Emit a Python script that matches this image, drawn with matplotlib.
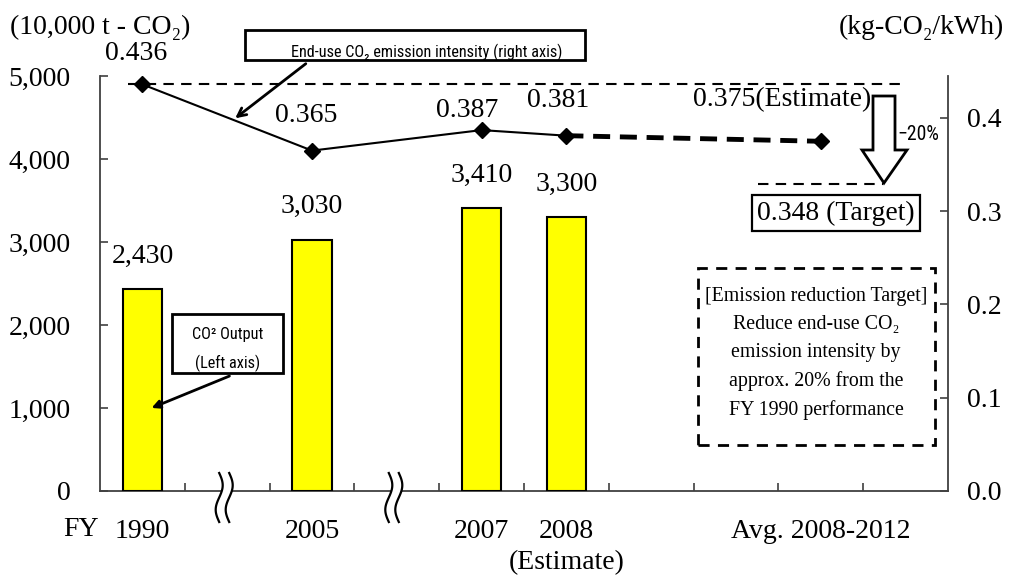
import numpy as np
import matplotlib
matplotlib.use('Agg')
import matplotlib.pyplot as plt
from matplotlib import font_manager as fm
from matplotlib.patches import Rectangle, Polygon, FancyArrowPatch
from matplotlib.lines import Line2D
from matplotlib import transforms

# ---------------- data ----------------
bar_pos = [0, 2, 4, 5]
bar_values = [2430, 3030, 3410, 3300]
bar_labels = ['2,430', '3,030', '3,410', '3,300']

line_pos = [0, 2, 4, 5]
intensity = [0.436, 0.365, 0.387, 0.381]
intensity_labels = ['0.436', '0.365', '0.387', '0.381']
estimate_pos = 8
intensity_estimate = 0.375
estimate_label = '0.375(Estimate)'
target_label = '0.348 (Target)'

xtick_pos = [0, 2, 4, 5, 8]
xtick_labels = ['1990', '2005', '2007', '2008', 'Avg. 2008-2012']
break_pos = [1, 3]

left_ticks = [0, 1000, 2000, 3000, 4000, 5000]
left_ticklabels = ['0', '1,000', '2,000', '3,000', '4,000', '5,000']
right_ticks = [0.0, 0.1, 0.2, 0.3, 0.4]
right_ticklabels = ['0.0', '0.1', '0.2', '0.3', '0.4']

# ---------------- fonts ----------------
names = {f.name for f in fm.fontManager.ttflist}
SERIF = ['Liberation Serif', 'DejaVu Serif']
SANS_STRETCH = 'normal'
if 'Liberation Sans Narrow' in names:
    SANS = ['Liberation Sans Narrow', 'Liberation Sans', 'DejaVu Sans']
    sans_scale = 1.0
elif 'Roboto Condensed' in names:
    SANS = ['Roboto Condensed', 'DejaVu Sans']
    sans_scale = 0.95
elif any(f.name == 'DejaVu Sans' and f.stretch in ('condensed', 'semi-condensed')
         for f in fm.fontManager.ttflist):
    SANS = ['DejaVu Sans']
    SANS_STRETCH = 'condensed'
    sans_scale = 0.86
else:
    SANS = ['Liberation Sans', 'DejaVu Sans']
    sans_scale = 0.85
plt.rcParams['font.family'] = SERIF

W, H = 1012, 576
fig = plt.figure(figsize=(W / 100, H / 100), dpi=100)
fig.patch.set_facecolor('white')


def fx(px):
    return px / W


def fy(py):
    return 1 - py / H


AX_L, AX_R, AX_T, AX_B = 100, 948, 76, 491
ax = fig.add_axes([fx(AX_L), fy(AX_B), fx(AX_R) - fx(AX_L), fy(AX_T) - fy(AX_B)])
ax2 = ax.twinx()

ax.set_xlim(-0.5, 9.5)
ax.set_ylim(0, 5000)
ax2.set_ylim(0, 0.445)

SPC = '#404040'
for a in (ax, ax2):
    a.spines['top'].set_visible(False)
    for s in a.spines.values():
        s.set_color(SPC)
        s.set_linewidth(1.3)
ax.spines['right'].set_visible(False)
ax2.spines['left'].set_visible(False)
ax2.spines['bottom'].set_visible(False)

# bars
ax.bar(bar_pos, bar_values, width=0.46, color='#FFFF00', edgecolor='black',
       linewidth=1.5, zorder=3)
for x, v, lab in zip(bar_pos, bar_values, bar_labels):
    ax.annotate(lab, (x, v), xytext=(0, 33), textcoords='offset pixels',
                ha='center', va='center', fontsize=20)

# reference dashed line at FY1990 level
ax2.axhline(intensity[0], xmin=28 / 848, xmax=802 / 848, color='black', lw=1.5,
            linestyle=(0, (5, 3.5)), zorder=2)

# intensity line
ax2.plot([line_pos[-1], estimate_pos], [intensity[-1], intensity_estimate],
         color='black', lw=3.5, linestyle=(0, (3.5, 2)), zorder=4)
ax2.plot(line_pos, intensity, color='black', lw=1.5, marker='D', ms=8.5, zorder=5)
ax2.plot([estimate_pos], [intensity_estimate], linestyle='none', color='black',
         marker='D', ms=8.5, zorder=5)

lab_off = [(-6, 31), (-6, 35), (-14, 20), (-8, 35)]
for x, v, lab, off in zip(line_pos, intensity, intensity_labels, lab_off):
    ax2.annotate(lab, (x, v), xytext=off, textcoords='offset pixels',
                 ha='center', va='center', fontsize=20)
ax2.annotate(estimate_label, (estimate_pos, intensity_estimate), xytext=(-39, 42),
             textcoords='offset pixels', ha='center', va='center', fontsize=20)

# ticks
ax.set_xticks(xtick_pos, xtick_labels)
ax.tick_params(axis='x', which='major', length=0, pad=20, labelsize=20)
ax.set_xticks(np.arange(0.5, 9.0, 1.0), minor=True)
ax.tick_params(axis='x', which='minor', direction='in', length=6, width=1.2, color=SPC)
ax.set_yticks(left_ticks, left_ticklabels)
ax.tick_params(axis='y', direction='in', length=6, width=1.2, color=SPC, pad=21,
               labelsize=20)
ax2.set_yticks(right_ticks, right_ticklabels)
ax2.tick_params(axis='y', direction='in', length=6, width=1.2, color=SPC, pad=14,
                labelsize=20)

# axis titles
fig.text(fx(10), fy(27), '(10,000 t - CO₂)', ha='left', va='center', fontsize=20)
fig.text(fx(1004), fy(27), '(kg-CO₂/kWh)', ha='right', va='center', fontsize=20)
fig.text(fx(63), fy(529), 'FY', ha='left', va='center', fontsize=20)
btr = transforms.blended_transform_factory(ax.transData, fig.transFigure)
fig.text(5, fy(569), '(Estimate)', transform=btr, ha='center', va='baseline', fontsize=20)

# axis break marks
fig.canvas.draw()
t = np.linspace(0, 1, 80)
ytop, ybot = H - 473, H - 522
yy = ytop + (ybot - ytop) * t
wave = 3.5 * np.sin(2 * np.pi * t)
idt = transforms.IdentityTransform()
for c in break_pos:
    xc = ax.transData.transform((c, 0))[0] - 3
    xl = xc - 5 + wave
    xr = xc + 5 + wave
    poly = np.column_stack([np.concatenate([xl, xr[::-1]]),
                            np.concatenate([yy, yy[::-1]])])
    fig.add_artist(Polygon(poly, closed=True, transform=idt, fc='white', ec='none',
                           zorder=5))
    fig.add_artist(Line2D(xl, yy, transform=idt, color='black', lw=1.6, zorder=6))
    fig.add_artist(Line2D(xr, yy, transform=idt, color='black', lw=1.6, zorder=6))

sans_kw = dict(family=SANS, fontstretch=SANS_STRETCH)

# "End-use CO2 emission intensity" callout
fig.add_artist(Rectangle((fx(245), fy(60)), fx(585) - fx(245), 30 / H, transform=fig.transFigure,
                         fc='white', ec='black', lw=2, zorder=5))
fig.text(fx(427), fy(57), 'End-use CO₂ emission intensity (right axis)', ha='center',
         va='baseline', fontsize=12.3 * sans_scale, zorder=6, **sans_kw)
fig.add_artist(FancyArrowPatch(
    (fx(308), fy(62)), (fx(233), fy(120)), transform=fig.transFigure,
    arrowstyle='->', mutation_scale=15, lw=2, color='black', zorder=6))

# "CO2 Output" callout
fig.add_artist(Rectangle((fx(172), fy(373)), fx(283) - fx(172), 59 / H, transform=fig.transFigure,
                         fc='white', ec='black', lw=2, zorder=5))
fig.text(fx(228), fy(335), 'CO² Output', ha='center', va='center',
         fontsize=12.3 * sans_scale, zorder=6, **sans_kw)
fig.text(fx(228), fy(363), '(Left axis)', ha='center', va='center',
         fontsize=12.3 * sans_scale, zorder=6, **sans_kw)
fig.add_artist(FancyArrowPatch(
    (fx(232), fy(375)), (fx(149), fy(409)), transform=fig.transFigure,
    arrowstyle='-|>', mutation_scale=12, lw=2, color='black', zorder=6))

# reduction arrow and target
arrow_px = [(873, 96), (895, 96), (895, 150), (907, 150), (884, 183), (862, 150), (873, 150)]
fig.add_artist(Polygon([(fx(x), fy(y)) for x, y in arrow_px], closed=True,
                       transform=fig.transFigure, fc='white', ec='black', lw=2, zorder=6))
fig.text(fx(897), fy(134), '−20%', ha='left', va='center',
         fontsize=15 * sans_scale, zorder=7, **sans_kw)
fig.add_artist(Line2D([fx(758), fx(883)], [fy(184), fy(184)], transform=fig.transFigure,
                      color='black', lw=1.5, linestyle=(0, (5, 3.5)), zorder=5))
fig.text(fx(836), fy(213), target_label, ha='center', va='center', fontsize=20, zorder=7,
         bbox=dict(boxstyle='square,pad=0.18', fc='white', ec='black', lw=1.6))

# dashed target box
fig.add_artist(Rectangle((fx(698), fy(445)), fx(935) - fx(698), (445 - 268) / H,
                         transform=fig.transFigure, fill=False, ec='black', lw=2,
                         linestyle=(0, (4, 3)), zorder=5))
box_lines = ['[Emission reduction Target]', 'Reduce end-use CO₂',
             'emission intensity by', 'approx. 20% from the', 'FY 1990 performance']
for i, s in enumerate(box_lines):
    fig.text(fx(816), fy(296 + i * 28.5), s, ha='center', va='center', fontsize=14.3,
             zorder=6)

fig.savefig('out.png', dpi=100)
